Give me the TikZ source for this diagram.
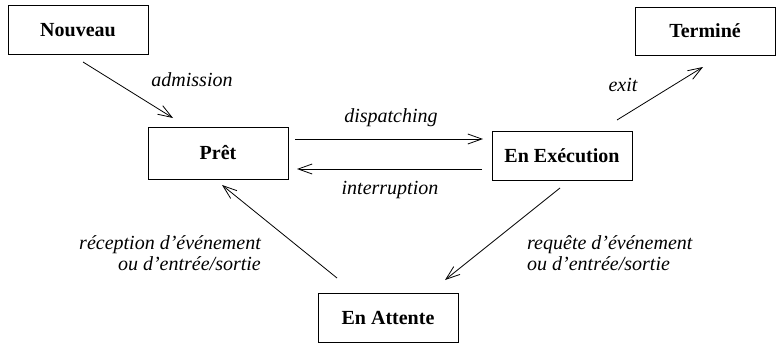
\documentclass[tikz,border=0pt]{standalone}
\usepackage{fontspec}
\setmainfont{Liberation Serif}
\usetikzlibrary{arrows.meta}
\tikzset{
  state/.style={draw, line width=0.9pt, minimum width=140pt, minimum height=49pt, inner sep=0pt, font=\fontsize{20}{22}\selectfont\bfseries},
  trans/.style={line width=0.8pt, -{Straight Barb[length=14pt,width=10pt,line width=0.8pt]}},
  lab/.style={font=\fontsize{20}{21}\selectfont\itshape, inner sep=0pt}
}
\begin{document}
\begin{tikzpicture}[x=1pt,y=-1pt]
\useasboundingbox (0,0) rectangle (776,343);
\node[state] (nouveau) at (78,30) {Nouveau};
\node[state, minimum height=52pt] (pret) at (218,153) {Prêt};
\node[state, minimum height=48pt] (termine) at (705,31) {Terminé};
\node[state] (exec) at (562,155.5) {En Exécution};
\node[state] (attente) at (388,317.5) {En Attente};

\coordinate (a1) at (83,62);   \coordinate (a2) at (173,118);
\coordinate (d1) at (295,139); \coordinate (d2) at (483,139);
\coordinate (i1) at (482,169); \coordinate (i2) at (297,169);
\coordinate (e1) at (617,120); \coordinate (e2) at (703,67);
\coordinate (q1) at (560,188); \coordinate (q2) at (445,280);
\coordinate (r1) at (337,278); \coordinate (r2) at (222,185);

\draw[trans] (a1) -- (a2);
\draw[trans] (d1) -- (d2);
\draw[trans] (i1) -- (i2);
\draw[trans] (e1) -- (e2);
\draw[trans] (q1) -- (q2);
\draw[trans] (r1) -- (r2);

\node[lab] (ladm) at (192,80) {admission};
\node[lab] (ldis) at (391,118) {dispatching};
\node[lab] (lint) at (390,190) {interruption};
\node[lab] (lexit) at (623,85) {exit};
\node[lab, align=left, anchor=west] (lreq) at (527,253) {requête d’événement\\ou d’entrée/sortie};
\node[lab, align=right, anchor=east] (lrec) at (261,253) {réception d’événement\\ou d’entrée/sortie};
\end{tikzpicture}
\end{document}
